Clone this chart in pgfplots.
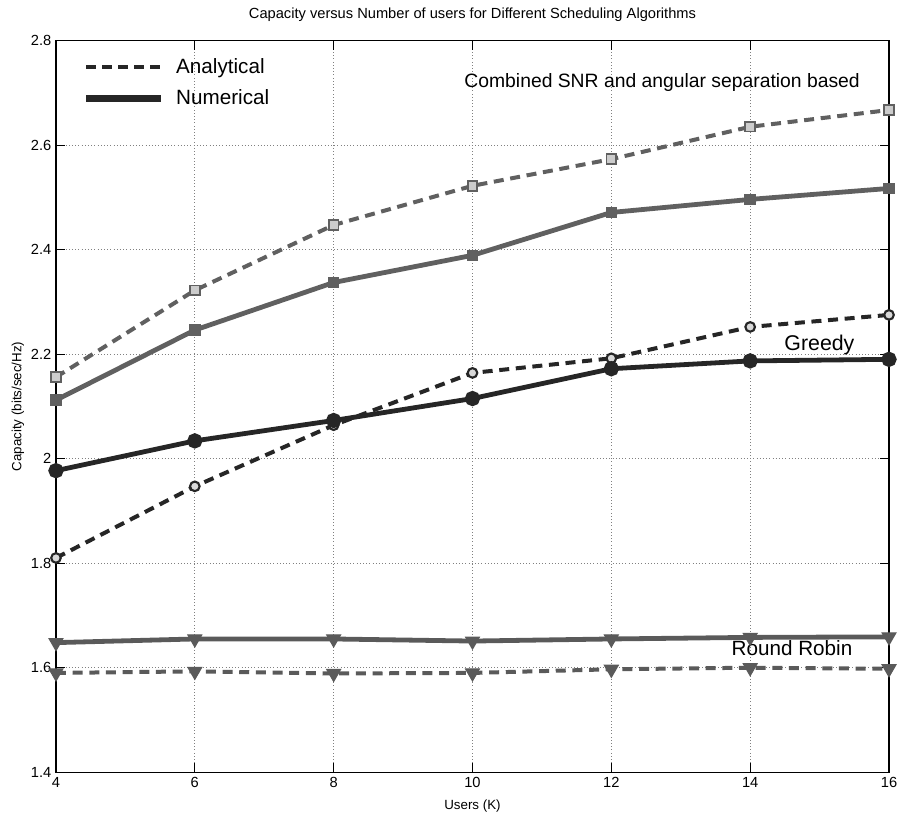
\documentclass[border=0pt]{standalone}
\usepackage{pgfplots}
\pgfplotsset{compat=1.18}
\usepackage{fontspec}
\setmainfont{Liberation Sans}
\usetikzlibrary{plotmarks}
\definecolor{cgray}{HTML}{606060}
\definecolor{gdark}{HTML}{262626}
\definecolor{rgray}{HTML}{5A5A5A}
\pgfplotstableread{
x   ca     cn     ga     gn     ra     rn
4   2.156  2.112  1.810  1.977  1.590  1.648
6   2.322  2.246  1.947  2.034  1.593  1.655
8   2.447  2.337  2.064  2.073  1.589  1.655
10  2.522  2.389  2.164  2.115  1.590  1.651
12  2.573  2.471  2.192  2.172  1.597  1.655
14  2.635  2.496  2.252  2.187  1.600  1.658
16  2.667  2.517  2.275  2.190  1.598  1.659
}\datatable
\begin{document}
\begin{tikzpicture}
\begin{axis}[
  at={(0,0)}, anchor=south west,
  scale only axis, width=625pt, height=549pt,
  xmin=4, xmax=16, ymin=1.4, ymax=2.8,
  xtick={4,6,8,10,12,14,16},
  ytick={1.4,1.6,1.8,2,2.2,2.4,2.6,2.8},
  yticklabels={1.4,1.6,1.8,2,2.2,2.4,2.6,2.8},
  tick pos=both, tick align=inside, major tick length=7pt,
  grid=major, major grid style={black!50, dotted, line width=0.7pt},
  axis line style={black, line width=0.8pt},
  tick style={black, line width=0.6pt},
  ticklabel style={font=\fontsize{11}{13}\selectfont},
  /pgf/number format/assume math mode=true,
  clip=false,
  xlabel={Users (K)},
  ylabel={Capacity (bits/sec/Hz)},
  label style={font=\fontsize{10}{12}\selectfont},
  xlabel style={at={([yshift=-25.5pt]axis description cs:0.5,0)}, anchor=center},
  ylabel style={at={([xshift=-28.5pt]axis description cs:0,0.5)}, anchor=center},
  title={Capacity versus Number of users for Different Scheduling Algorithms},
  title style={font=\fontsize{11}{13}\selectfont, at={([yshift=13pt]axis description cs:0.5,1)}, anchor=center},
  legend image code/.code={\draw[#1] (0pt,0pt) -- (56pt,0pt);},
  legend style={at={([xshift=20pt,yshift=-10pt]axis description cs:0,1)}, anchor=north west,
    draw=none, fill=none, font=\fontsize{15.5}{18}\selectfont, row sep=5pt, column sep=6pt,
    inner sep=0pt, nodes={inner sep=3pt}},
  legend cell align=left,
]
\addlegendimage{black!85, line width=3pt, dash pattern=on 7pt off 5pt}
\addlegendentry{Analytical}
\addlegendimage{black!85, line width=5pt}
\addlegendentry{Numerical}

% Combined SNR and angular separation
\addplot[forget plot, cgray, line width=3pt, dash pattern=on 7.5pt off 5pt,
  mark=square*, mark size=3.6pt, mark options={solid, fill=white!80!black, draw=cgray, line width=1.4pt}]
  table[x=x, y=ca]{\datatable};
\addplot[forget plot, cgray, line width=3.6pt,
  mark=square*, mark size=3.8pt, mark options={solid, fill=cgray, draw=cgray, line width=1pt}]
  table[x=x, y=cn]{\datatable};
% Greedy
\addplot[forget plot, gdark, line width=3pt, dash pattern=on 7.5pt off 5pt,
  mark=*, mark size=3.6pt, mark options={solid, fill=white!85!black, draw=gdark, line width=1.6pt}]
  table[x=x, y=ga]{\datatable};
\addplot[forget plot, gdark, line width=3.6pt,
  mark=*, mark size=3.9pt, mark options={solid, fill=gdark, draw=gdark}]
  table[x=x, y=gn]{\datatable};
% Round robin
\addplot[forget plot, rgray, line width=3pt, dash pattern=on 7.5pt off 5pt,
  mark=triangle*, mark size=6pt, mark options={solid, rotate=180, fill=rgray, draw=rgray, line width=0.8pt}]
  table[x=x, y=ra]{\datatable};
\addplot[forget plot, rgray, line width=3.6pt,
  mark=triangle*, mark size=6pt, mark options={solid, rotate=180, fill=rgray, draw=rgray, line width=0.8pt}]
  table[x=x, y=rn]{\datatable};

\node[anchor=west, inner sep=0pt, font=\fontsize{14.5}{17}\selectfont] at (axis cs:9.88,2.72) {Combined SNR and angular separation based};
\node[anchor=west, inner sep=0pt, font=\fontsize{16}{18}\selectfont] at (axis cs:14.49,2.217) {Greedy};
\node[anchor=west, inner sep=0pt, font=\fontsize{15.5}{18}\selectfont] at (axis cs:13.73,1.637) {Round Robin};
\end{axis}
\pgfresetboundingbox
\path[use as bounding box] (-42pt,-33pt) rectangle (631.75pt,579.4pt);
\end{tikzpicture}
\end{document}
